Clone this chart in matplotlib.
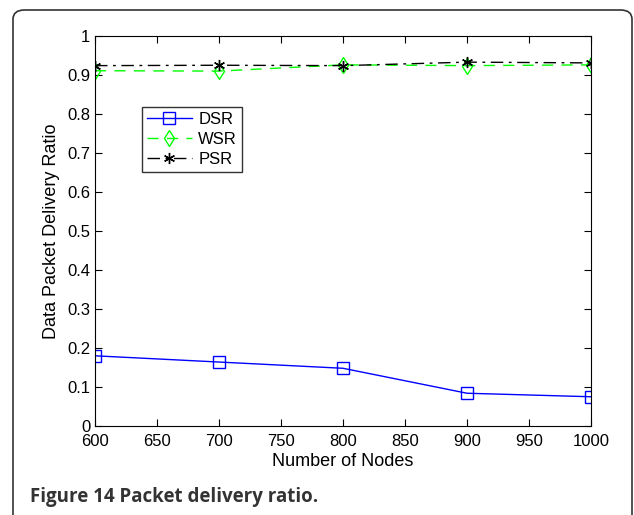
import matplotlib
matplotlib.use("Agg")
import matplotlib.pyplot as plt
from matplotlib.patches import FancyBboxPatch

nodes = [600, 700, 800, 900, 1000]
dsr = [0.180, 0.164, 0.148, 0.084, 0.075]
wsr = [0.911, 0.910, 0.926, 0.924, 0.926]
psr = [0.924, 0.925, 0.924, 0.933, 0.931]

W, H = 634, 515
plt.rcParams['font.family'] = ['Liberation Sans', 'DejaVu Sans']

fig = plt.figure(figsize=(W / 100, H / 100), dpi=100)

# rounded frame around the whole figure (bottom runs off the page)
frame = FancyBboxPatch((13 / W, -0.05), (632 - 13) / W, 1.05 - 10 / H,
                       boxstyle="round,pad=0,rounding_size=0.018",
                       transform=fig.transFigure, fill=False,
                       edgecolor='#333333', linewidth=1.2)
fig.patches.append(frame)

ax = fig.add_axes([95 / W, 1 - 426 / H, (591 - 95) / W, (426 - 36) / H])
ax.plot(nodes, dsr, color='blue', linestyle='-', marker='s', markersize=8,
        markerfacecolor='none', markeredgecolor='blue', linewidth=1, label='DSR')
ax.plot(nodes, wsr, color='#00ff00', linestyle=(0, (8, 6)), marker='d', markersize=8,
        markerfacecolor='none', markeredgecolor='#00ff00', linewidth=1, label='WSR')
ax.plot(nodes, psr, color='black', linestyle=(0, (9, 4, 2, 4)), marker=(6, 2, 0),
        markersize=8, markeredgewidth=1, linewidth=1, label='PSR')

ax.set_xlim(600, 1000)
ax.set_ylim(0, 1)
ax.set_xticks(range(600, 1001, 50))
ax.set_yticks([i / 10 for i in range(11)])
ax.set_yticklabels(['0', '0.1', '0.2', '0.3', '0.4', '0.5', '0.6', '0.7', '0.8', '0.9', '1'])
ax.tick_params(direction='in', top=True, right=True, labelsize=12, length=5)
ax.tick_params(axis='x', pad=6)
ax.tick_params(axis='y', pad=3.5)
ax.set_xlabel('Number of Nodes', fontsize=13, labelpad=3)
ax.set_ylabel('Data Packet Delivery Ratio', fontsize=13, labelpad=5)

leg = ax.legend(loc='upper left', bbox_to_anchor=(0.077, 0.84), fontsize=12,
                frameon=True, fancybox=False, edgecolor='black',
                handlelength=2.7, borderpad=0.3, labelspacing=0.3, handletextpad=0.4)
leg.get_frame().set_linewidth(1)

fig.text(30 / W, 1 - 497 / H, 'Figure 14 Packet delivery ratio.',
         fontsize=13.5, fontweight='bold', color='#333333',
         family=['Open Sans', 'DejaVu Sans'], va='center')

fig.savefig('out.png', dpi=100)
